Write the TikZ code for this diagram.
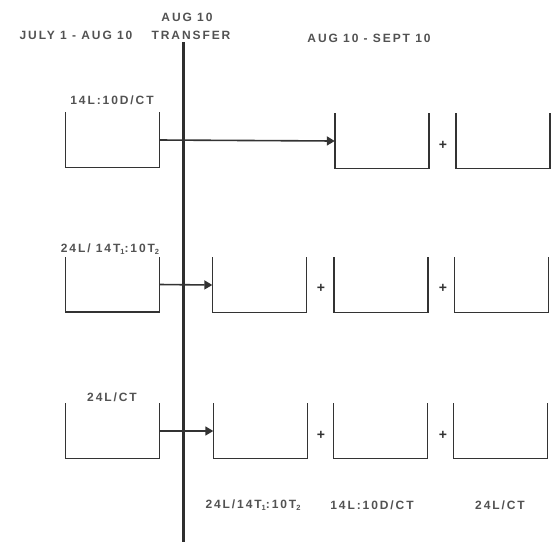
\documentclass[tikz,border=0pt]{standalone}
\usepackage{fontspec}
\setmainfont{Liberation Sans}[LetterSpace=16]
\usetikzlibrary{arrows.meta}
\definecolor{ink}{HTML}{333333}
\tikzset{
  tank/.style={rectangle, minimum width=94pt, minimum height=55pt, inner sep=0pt},
  lbl/.style={font=\fontsize{12}{14}\selectfont\bfseries, text=ink!85, inner sep=0pt},
  plus/.style={font=\fontsize{14}{15}\selectfont\bfseries, text=ink, inner sep=0pt},
  tankline/.style={draw=ink, line width=1.5pt, line join=miter},
  link/.style={draw=ink, line width=1.6pt, -{Triangle[length=8pt,width=9pt]}},
  mainline/.style={draw=ink!90!black, line width=3pt}
}
\newcommand{\sbs}[1]{\raisebox{-0.4ex}{\fontsize{7.5}{7.5}\selectfont #1}}
\newcommand{\drawtank}[1]{\draw[tankline] (#1.north west) -- (#1.south west) -- (#1.south east) -- (#1.north east);}
\begin{document}
\begin{tikzpicture}[x=1pt,y=-1pt]
\useasboundingbox (0,0) rectangle (553,542);
% headers
\node[lbl] (h1) at (76,35) {JULY 1 - AUG 10};
\node[lbl] (h2) at (187,17) {AUG 10};
\node[lbl] (h3) at (191,35) {TRANSFER};
\node[lbl] (h4) at (369,38) {AUG 10 - SEPT 10};
% vertical transfer line
\coordinate (vtop) at (183.5,42);
\coordinate (vbot) at (183.5,542);
\draw[mainline] (vtop) -- (vbot);
% tanks
\node[tank] (L1) at (112.5,140) {};
\node[tank] (A1) at (382,141) {};
\node[tank] (B1) at (503,141) {};
\node[tank] (L2) at (112.5,284.5) {};
\node[tank] (A2) at (259.5,285) {};
\node[tank] (B2) at (381,285) {};
\node[tank] (C2) at (501.5,285) {};
\node[tank] (L3) at (112.5,431) {};
\node[tank] (A3) at (260.5,431) {};
\node[tank] (B3) at (380.5,431) {};
\node[tank] (C3) at (500.5,431) {};
\foreach \t in {L1,A1,B1,L2,A2,B2,C2,L3,A3,B3,C3} {\drawtank{\t}}
% connectors
\draw[link] (L1.east) -- (A1.west);
\draw[link] (L2.east) -- (A2.west);
\draw[link] (L3.east) -- (A3.west);
% plus signs
\node[plus] (p1) at (443,145) {+};
\node[plus] (p2) at (321,288) {+};
\node[plus] (p3) at (443,288) {+};
\node[plus] (p4) at (321,435) {+};
\node[plus] (p5) at (443,435) {+};
% labels
\node[lbl] (t1) at (112,100) {14L:10D/CT};
\node[lbl] (t2) at (110,249) {24L/ 14T\sbs{1}:10T\sbs{2}};
\node[lbl] (t3) at (112,397) {24L/CT};
\node[lbl] (b1) at (253,505) {24L/14T\sbs{1}:10T\sbs{2}};
\node[lbl] (b2) at (372,505) {14L:10D/CT};
\node[lbl] (b3) at (500,505) {24L/CT};
\end{tikzpicture}
\end{document}
